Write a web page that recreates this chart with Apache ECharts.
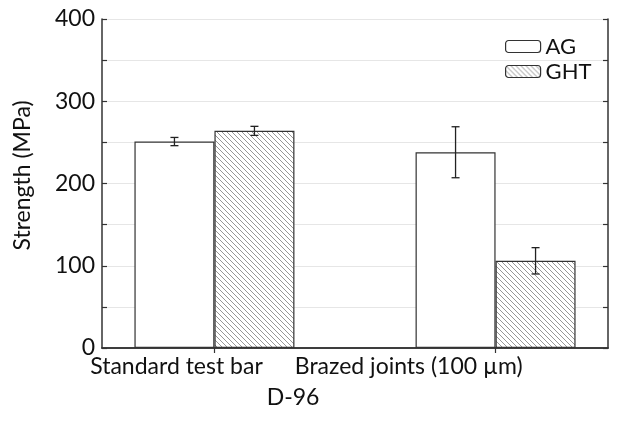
<!DOCTYPE html>
<html><head><meta charset="utf-8">
<script src="https://cdn.jsdelivr.net/npm/echarts@6/dist/echarts.min.js"></script>
<style>html,body{margin:0;padding:0;background:#fff}#c{width:633px;height:421px}</style>
</head><body><div id="c"></div>
<script>
var categories = ['Standard test bar', 'Brazed joints (100 µm)'];
var categoryPos = [1, 2];
var labelPos = [0.865, 1.691];
var seriesNames = ['AG', 'GHT'];
var agValues = [251, 238];
var agErr = [5, 31];
var ghtValues = [264, 106];
var ghtErr = [5.5, 16];
var yTicks = [0, 100, 200, 300, 400];

var FONT = 'Lato';
var FS = 23;
function hatch() {
  var c = document.createElement('canvas');
  c.width = 5; c.height = 5;
  var g = c.getContext('2d');
  g.fillStyle = '#fff'; g.fillRect(0, 0, 5, 5);
  g.strokeStyle = '#8a8a8a'; g.lineWidth = 0.9;
  g.beginPath();
  g.moveTo(-1, -1); g.lineTo(6, 6);
  g.moveTo(-1, 4); g.lineTo(1, 6);
  g.moveTo(4, -1); g.lineTo(6, 1);
  g.stroke();
  return c;
}
var pattern = { image: hatch(), repeat: 'repeat' };

function pairs(vals) { return vals.map(function (v, i) { return [categoryPos[i], v]; }); }
function errData(vals, errs, k) { return vals.map(function (v, i) { return [categoryPos[i], v - errs[i], v + errs[i], k]; }); }

var BW = 80;
function renderErr(params, api) {
  var x = api.value(0), k = api.value(3);
  var lo = api.coord([x, api.value(1)]);
  var hi = api.coord([x, api.value(2)]);
  var cx = lo[0] + (k === 0 ? -BW / 2 : BW / 2);
  var w = 4;
  var st = { stroke: '#222', lineWidth: 1.3 };
  return { type: 'group', children: [
    { type: 'line', shape: { x1: cx, y1: lo[1], x2: cx, y2: hi[1] }, style: st },
    { type: 'line', shape: { x1: cx - w, y1: lo[1], x2: cx + w, y2: lo[1] }, style: st },
    { type: 'line', shape: { x1: cx - w, y1: hi[1], x2: cx + w, y2: hi[1] }, style: st }
  ] };
}

var chart = echarts.init(document.getElementById('c'), null, { renderer: 'canvas' });
var axisLine = { show: true, lineStyle: { color: '#333', width: 1.5 } };
chart.setOption({
  animation: false,
  textStyle: { fontFamily: FONT },
  grid: { left: 102, right: 25, top: 19, bottom: 73, containLabel: false, outerBoundsMode: 'none' },
  legend: {
    orient: 'vertical', left: 500, top: 29, itemWidth: 35, itemHeight: 12, itemGap: 0,
    textStyle: { fontFamily: FONT, fontSize: FS - 1, color: '#111', lineHeight: 25 },
    data: [
      { name: seriesNames[0], itemStyle: { color: '#fff', borderColor: '#333', borderWidth: 1.2 } },
      { name: seriesNames[1], itemStyle: { color: pattern, borderColor: '#333', borderWidth: 1.2 } }
    ]
  },
  xAxis: [{
    type: 'value', min: 0.6, max: 2.4, position: 'bottom',
    axisLine: axisLine, splitLine: { show: false }, axisTick: { show: false },
    axisLabel: {
      customValues: labelPos, fontFamily: FONT, fontSize: FS, color: '#111', margin: 7,
      formatter: function (v) { var i = labelPos.indexOf(v); return i >= 0 ? categories[i] : ''; }
    },
    name: 'D-96', nameLocation: 'middle', nameGap: 38,
    nameTextStyle: { fontFamily: FONT, fontSize: FS, color: '#111', padding: [0, 124, 0, 0] }
  }, {
    type: 'value', min: 0.6, max: 2.4, position: 'top',
    axisLine: axisLine, splitLine: { show: false }, axisLabel: { show: false },
    axisTick: { show: true, inside: true, length: 5, customValues: categoryPos, lineStyle: { color: '#333', width: 1.2 } }
  }],
  yAxis: [{
    type: 'value', min: 0, max: 400, interval: 50, position: 'left',
    axisLine: axisLine,
    axisTick: { show: true, inside: true, length: 5, lineStyle: { color: '#333', width: 1.2 } },
    splitLine: { show: true, lineStyle: { color: '#e6e6e6', width: 1 } },
    axisLabel: { fontFamily: FONT, fontSize: FS, color: '#111', margin: 7,
      formatter: function (v) { return yTicks.indexOf(v) >= 0 ? String(v) : ''; } },
    name: 'Strength (MPa)', nameLocation: 'middle', nameGap: 68,
    nameTextStyle: { fontFamily: FONT, fontSize: FS, color: '#111', padding: [0, 0, 0, 16] }
  }, {
    type: 'value', min: 0, max: 400, interval: 50, position: 'right',
    axisLine: axisLine, splitLine: { show: false }, axisLabel: { show: false },
    axisTick: { show: true, inside: true, length: 5, lineStyle: { color: '#333', width: 1.2 } }
  }],
  series: [
    { name: seriesNames[0], type: 'bar', data: pairs(agValues), barWidth: BW, barGap: '0%',
      itemStyle: { color: '#fff', borderColor: '#333', borderWidth: 1.2 } },
    { name: seriesNames[1], type: 'bar', data: pairs(ghtValues), barWidth: BW, barGap: '0%',
      itemStyle: { color: pattern, borderColor: '#333', borderWidth: 1.2 } },
    { type: 'custom', name: 'errAG', renderItem: renderErr, data: errData(agValues, agErr, 0), z: 10 },
    { type: 'custom', name: 'errGHT', renderItem: renderErr, data: errData(ghtValues, ghtErr, 1), z: 10 }
  ]
});
</script></body></html>
